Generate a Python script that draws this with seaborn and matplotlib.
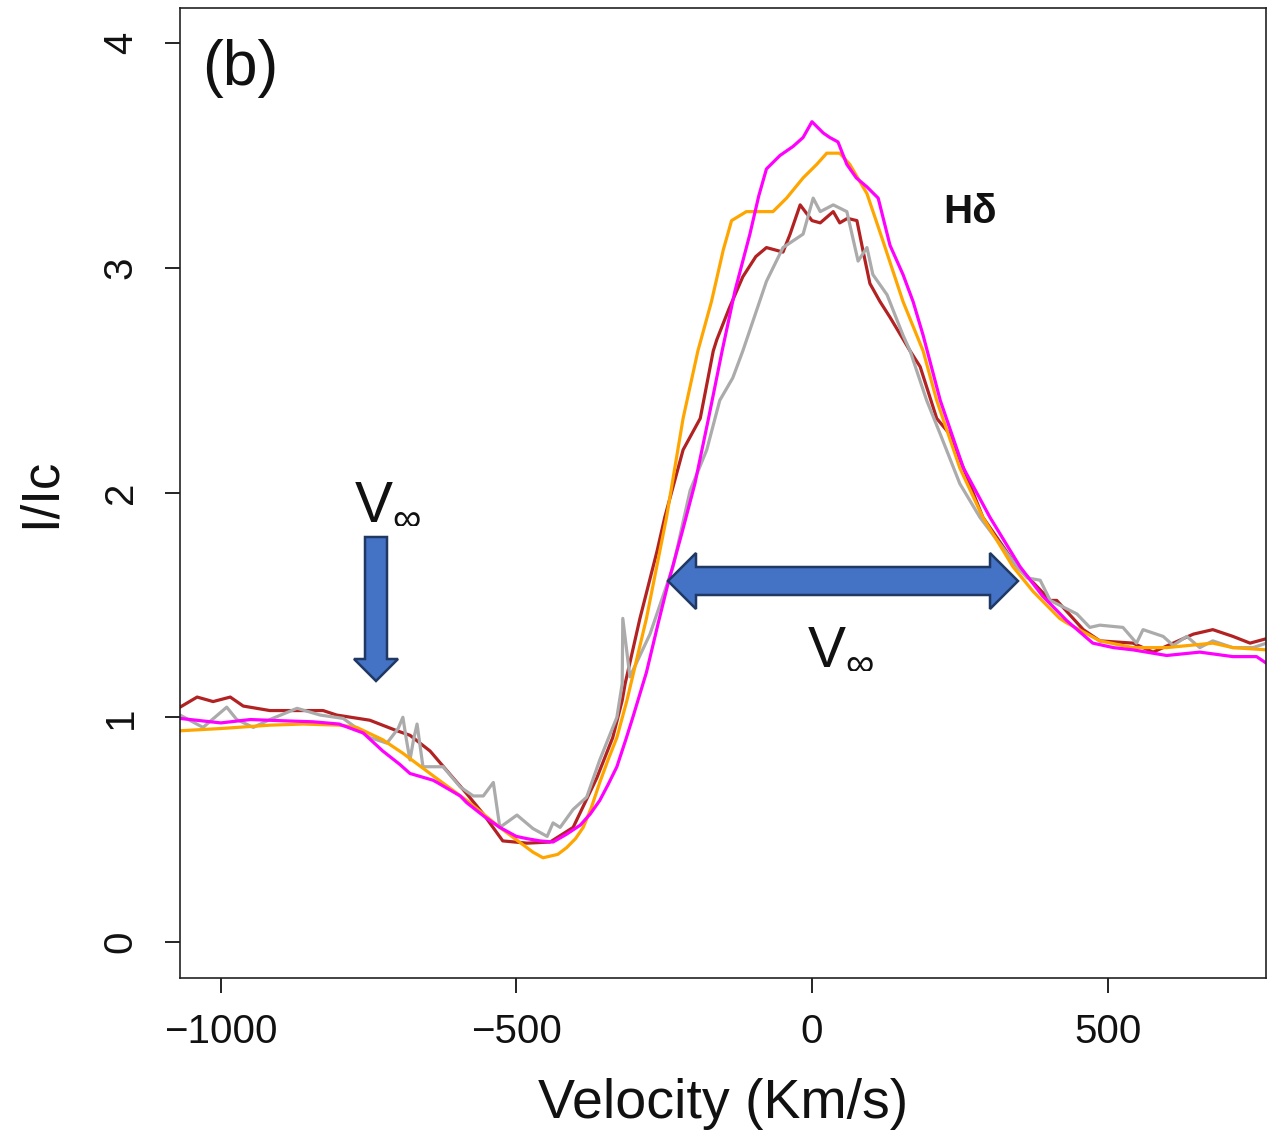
import numpy as np
import pandas as pd
import matplotlib
matplotlib.use("Agg")
import matplotlib.pyplot as plt
import matplotlib.transforms as mtransforms
from matplotlib.patches import Polygon
import seaborn as sns

# ---------------- data ----------------
v_red = [-1069, -1040, -1013, -984, -962, -917, -861, -827, -804, -748, -702, -680, -646,
         -607, -584, -556, -523, -482, -443, -404, -364, -337, -321, -316, -291, -262, -249,
         -218, -189, -167, -161, -140, -117, -95, -77, -49, -37, -20, 0, 14, 36, 47, 60, 76,
         86, 98, 115, 132, 166, 183, 211, 233, 256, 289, 347, 374, 403, 414, 459, 487, 543,
         577, 611, 645, 678, 712, 741, 769]
y_red = [1.045, 1.09, 1.07, 1.09, 1.05, 1.03, 1.03, 1.03, 1.01, 0.987, 0.94, 0.92, 0.85,
         0.73, 0.66, 0.57, 0.45, 0.44, 0.445, 0.51, 0.73, 0.91, 1.075, 1.15, 1.44, 1.74, 1.89,
         2.19, 2.33, 2.63, 2.68, 2.82, 2.96, 3.05, 3.09, 3.07, 3.15, 3.28, 3.21, 3.2, 3.25, 3.2,
         3.22, 3.21, 3.08, 2.93, 2.85, 2.78, 2.63, 2.56, 2.33, 2.26, 2.11, 1.89, 1.67, 1.6,
         1.52, 1.52, 1.39, 1.34, 1.33, 1.29, 1.33, 1.37, 1.39, 1.36, 1.33, 1.35]

v_gray = [-1069, -1030, -990, -973, -945, -917, -871, -832, -793, -748, -719, -700, -692,
          -686, -680, -674, -668, -658, -624, -595, -573, -556, -539, -528, -499, -472, -448,
          -438, -426, -404, -381, -359, -330, -321, -320, -308, -274, -235, -206, -178, -156,
          -134, -117, -77, -49, -15, 2, 14, 36, 59, 78, 93, 103, 127, 154, 166, 194, 217, 250,
          284, 347, 364, 386, 403, 448, 470, 487, 526, 549, 560, 594, 611, 634, 656, 678, 712,
          746, 769]
y_gray = [1.01, 0.955, 1.045, 0.99, 0.955, 0.99, 1.04, 1.01, 0.995, 0.91, 0.885, 0.95, 1.0,
          0.9, 0.81, 0.9, 0.97, 0.78, 0.78, 0.69, 0.65, 0.65, 0.71, 0.51, 0.565, 0.505, 0.47,
          0.53, 0.51, 0.59, 0.645, 0.81, 1.0, 1.15, 1.44, 1.18, 1.37, 1.67, 2.01, 2.19, 2.41,
          2.51, 2.63, 2.94, 3.09, 3.15, 3.31, 3.25, 3.28, 3.25, 3.03, 3.09, 2.97, 2.88, 2.7,
          2.63, 2.41, 2.26, 2.04, 1.89, 1.67, 1.62, 1.61, 1.52, 1.46, 1.40, 1.41, 1.40, 1.33,
          1.39, 1.36, 1.32, 1.36, 1.31, 1.34, 1.31, 1.31, 1.33]

v_orange = [-1069, -1000, -917, -861, -800, -770, -726, -692, -641, -584, -528, -472, -455,
            -430, -415, -400, -387, -373, -359, -345, -330, -313, -280, -246, -218, -193, -170,
            -150, -136, -111, -66, -43, -15, 8, 25, 47, 64, 93, 120, 154, 188, 211, 250, 289,
            340, 374, 419, 431, 487, 543, 600, 678, 712, 769]
y_orange = [0.94, 0.95, 0.965, 0.97, 0.965, 0.955, 0.9, 0.84, 0.74, 0.63, 0.51, 0.40, 0.375,
            0.39, 0.42, 0.46, 0.51, 0.6, 0.71, 0.81, 0.91, 1.075, 1.44, 1.89, 2.33, 2.63, 2.85,
            3.08, 3.21, 3.25, 3.25, 3.31, 3.4, 3.46, 3.51, 3.51, 3.46, 3.33, 3.12, 2.85, 2.63,
            2.41, 2.11, 1.89, 1.67, 1.56, 1.44, 1.42, 1.34, 1.31, 1.31, 1.33, 1.31, 1.30]

v_magenta = [-1069, -1000, -950, -900, -844, -800, -759, -726, -697, -680, -641, -634, -595,
             -584, -555, -528, -500, -482, -460, -438, -415, -392, -375, -359, -345, -330, -315,
             -303, -280, -260, -243, -220, -198, -175, -152, -130, -105, -90, -77, -54, -32, -15,
             0, 19, 30, 44, 59, 75, 93, 112, 132, 154, 171, 188, 217, 256, 301, 352, 390, 431,
             475, 510, 543, 600, 656, 712, 752, 769]
y_magenta = [0.995, 0.975, 0.99, 0.985, 0.98, 0.97, 0.93, 0.85, 0.79, 0.75, 0.72, 0.71, 0.65,
             0.62, 0.56, 0.51, 0.47, 0.46, 0.45, 0.445, 0.48, 0.52, 0.57, 0.63, 0.70, 0.78, 0.90,
             1.0, 1.2, 1.42, 1.6, 1.82, 2.04, 2.33, 2.63, 2.90, 3.15, 3.32, 3.44, 3.5, 3.54, 3.58,
             3.65, 3.6, 3.58, 3.56, 3.46, 3.40, 3.36, 3.31, 3.1, 2.97, 2.85, 2.7, 2.41, 2.11,
             1.89, 1.67, 1.54, 1.43, 1.33, 1.31, 1.30, 1.275, 1.29, 1.27, 1.27, 1.24]

series_names = ["red", "gray", "orange", "magenta"]
series_colors = ["#B22222", "#ABABAB", "#FFA500", "#FF00FF"]
x_ticks = [-1000, -500, 0, 500]
y_ticks = [0, 1, 2, 3, 4]

# ---------------- figure ----------------
W, H = 1268, 1139
sns.set_style("ticks")
plt.rcParams["font.family"] = ["Liberation Sans", "DejaVu Sans"]
plt.rcParams["mathtext.fontset"] = "custom"
plt.rcParams["mathtext.rm"] = "Liberation Sans"

fig = plt.figure(figsize=(W / 100, H / 100), dpi=100)
ax = fig.add_axes([180 / W, 1 - 978 / H, (1266 - 180) / W, (978 - 8) / H])

frames = []
for name, vv, yy in zip(series_names,
                        [v_red, v_gray, v_orange, v_magenta],
                        [y_red, y_gray, y_orange, y_magenta]):
    frames.append(pd.DataFrame({"Velocity": vv, "I/Ic": yy, "series": name}))
df = pd.concat(frames, ignore_index=True)

sns.lineplot(data=df, x="Velocity", y="I/Ic", hue="series",
             hue_order=series_names, palette=series_colors,
             estimator=None, sort=False, legend=False, linewidth=2.3, ax=ax)

ax.set_xlim(-1069, 768)
ax.set_ylim(-0.16, 4.156)
ax.set_xticks(x_ticks)
ax.set_yticks(y_ticks)
ax.set_xticklabels(["\u22121000", "\u2212500", "0", "500"])
ax.set_yticklabels([str(t) for t in y_ticks], rotation=90, va="center")
ax.tick_params(axis="both", direction="out", length=11, width=1.2, color="black",
               labelsize=29, labelcolor="#111111")
ax.tick_params(axis="x", pad=14)
ax.tick_params(axis="y", pad=18)
for s in ax.spines.values():
    s.set_visible(True)
    s.set_color("#222222")
    s.set_linewidth(1.2)

ax.set_xlabel("Velocity (Km/s)", fontsize=40, labelpad=20, color="#111111")
ax.set_ylabel("I/Ic", fontsize=38, labelpad=26, color="#111111")

# ---------------- annotations ----------------
fig.text(240 / W, 1 - 68 / H, "(b)", fontsize=45, ha="center", va="center",
         color="#111111")
fig.text(970 / W, 1 - 212 / H, "H\u03b4", fontsize=29, fontweight="bold",
         ha="center", va="center", color="#111111")
fig.text(354 / W, 1 - 503 / H, r"$\mathregular{V_{\infty}}$", fontsize=41,
         ha="left", va="center", color="#111111")
fig.text(807 / W, 1 - 648 / H, r"$\mathregular{V_{\infty}}$", fontsize=41,
         ha="left", va="center", color="#111111")

ident = mtransforms.IdentityTransform()


def px(points):
    return [(x, H - y) for x, y in points]


arrow_fc = "#4472C4"
arrow_ec = "#1F3864"

# downward arrow
down = px([(365, 537), (387, 537), (387, 659), (398, 659), (376, 681),
           (354, 659), (365, 659)])
fig.patches.append(Polygon(down, closed=True, transform=ident, facecolor=arrow_fc,
                           edgecolor=arrow_ec, linewidth=1.8))

# double-headed horizontal arrow
dbl = px([(668, 581), (696, 553), (696, 567), (990, 567), (990, 553), (1018, 581),
          (990, 609), (990, 595), (696, 595), (696, 609)])
fig.patches.append(Polygon(dbl, closed=True, transform=ident, facecolor=arrow_fc,
                           edgecolor=arrow_ec, linewidth=1.8))

fig.savefig("out.png", dpi=100)
